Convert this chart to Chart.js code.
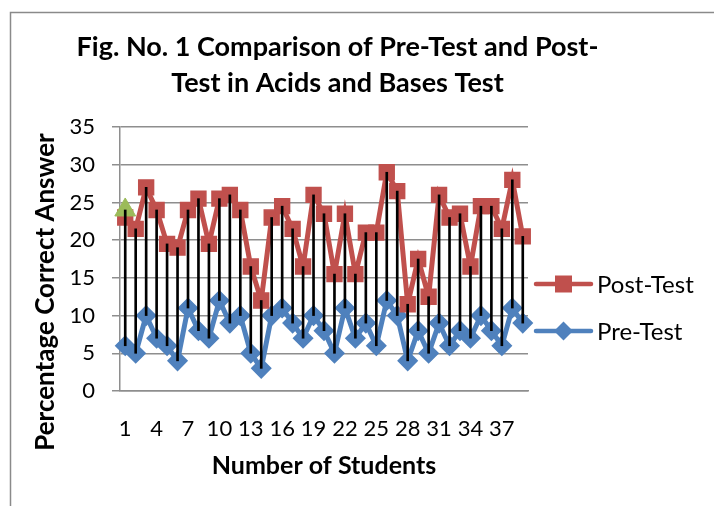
<!DOCTYPE html>
<html><head><meta charset="utf-8">
<script src="https://cdn.jsdelivr.net/npm/chart.js@4.4.1/dist/chart.umd.min.js"></script>
<style>html,body{margin:0;padding:0;background:#fff;overflow:hidden}#wrap{width:714px;height:506px;position:relative}</style>
</head><body><div id="wrap"><canvas id="c" width="714" height="506"></canvas></div>
<script>
const categories = ['1','2','3','4','5','6','7','8','9','10','11','12','13','14','15','16','17','18','19','20','21','22','23','24','25','26','27','28','29','30','31','32','33','34','35','36','37','38','39'];
const tickLabels = ['1','4','7','10','13','16','19','22','25','28','31','34','37'];
const postTest = [23,21.5,27,24,19.5,19,24,25.5,19.5,25.5,26,24,16.5,12,23,24.5,21.5,16.5,26,23.5,15.5,23.5,15.5,21,21,29,26.5,11.5,17.5,12.5,26,23,23.5,16.5,24.5,24.5,21.5,28,20.5];
const preTest = [6,5,10,7,6,4,11,8,7,12,9,10,5,3,10,11,9,7,10,8,5,11,7,9,6,12,10,4,8,5,9,6,8,7,10,8,6,11,9];
const series3 = [24,null,null,null,null,null,null,null,null,null,null,null,null,null,null,null,null,null,null,null,null,null,null,null,null,null,null,null,null,null,null,null,null,null,null,null,null,null,null];
const titleLines = ['Fig. No. 1 Comparison of Pre-Test and Post-','Test in Acids and Bases Test'];
const yTitle = 'Percentage Correct Answer';
const xTitle = 'Number of Students';
const yTicks = [0,5,10,15,20,25,30,35];

const RED = '#C0504D', BLUE = '#4F81BD', GREEN = '#9BBB59', GRID = '#8e8e8e';

const highLow = categories.map((c, i) => {
  const v = [postTest[i], preTest[i], series3[i]].filter(x => x !== null && x !== undefined);
  return [Math.min(...v), Math.max(...v)];
});

const deco = {
  id: 'deco',
  beforeDraw(chart) {
    const c = chart.ctx; c.save();
    c.fillStyle = '#fff'; c.fillRect(0, 0, chart.width, chart.height);
    c.strokeStyle = '#8a8a8a'; c.lineWidth = 1.5;
    c.strokeRect(10.5, 12.5, chart.width + 40, chart.height + 40);
    c.restore();
  },
  afterDraw(chart) {
    const c = chart.ctx; c.save();
    c.fillStyle = '#000'; c.textAlign = 'center'; c.textBaseline = 'middle';
    c.font = 'bold 27px Lato';
    titleLines.forEach((t, i) => c.fillText(t, 337.5, 47 + i * 36));
    c.save(); c.translate(46, 292); c.rotate(-Math.PI / 2);
    c.font = 'bold 26px Lato'; c.fillText(yTitle, 0, 0); c.restore();
    // legend
    const items = [
      {ds: chart.data.datasets[2], y: 284, shape: 'rect'},
      {ds: chart.data.datasets[3], y: 331, shape: 'diamond'}
    ];
    items.forEach(it => {
      c.strokeStyle = it.ds.borderColor; c.lineWidth = 4.5; c.lineCap = 'round';
      c.beginPath(); c.moveTo(536, it.y); c.lineTo(591, it.y); c.stroke();
      c.fillStyle = it.ds.backgroundColor;
      c.beginPath();
      const mx = 563.5;
      if (it.shape === 'rect') { c.rect(mx - 8.5, it.y - 8.5, 17, 17); }
      else { c.moveTo(mx, it.y - 9.5); c.lineTo(mx + 9.5, it.y); c.lineTo(mx, it.y + 9.5); c.lineTo(mx - 9.5, it.y); c.closePath(); }
      c.fill();
      c.fillStyle = '#000'; c.textAlign = 'left'; c.font = '24px Lato';
      c.fillText(it.ds.label, 597, it.y + 1);
    });
    c.restore();
  }
};

new Chart(document.getElementById('c'), {
  type: 'line',
  data: {
    labels: categories,
    datasets: [
      {type: 'bar', label: 'High-Low', data: highLow, backgroundColor: '#000', borderWidth: 0, barThickness: 2, order: 0},
      {label: 'Series3', data: series3, borderColor: GREEN, backgroundColor: GREEN, showLine: false, pointStyle: 'triangle', pointRadius: 12, pointBorderWidth: 1, order: 1},
      {label: 'Post-Test', data: postTest, borderColor: RED, backgroundColor: RED, borderWidth: 5, tension: 0, pointStyle: 'rect', pointRadius: 10.5, pointBorderWidth: 1.5, order: 2},
      {label: 'Pre-Test', data: preTest, borderColor: BLUE, backgroundColor: BLUE, borderWidth: 5, tension: 0, pointStyle: 'rectRot', pointRadius: 9.5, pointBorderWidth: 1.5, order: 3}
    ]
  },
  options: {
    responsive: false, animation: false, devicePixelRatio: 1,
    layout: {padding: {left: 0, right: 186, top: 127, bottom: 0}},
    plugins: {legend: {display: false}, title: {display: false}, tooltip: {enabled: false}},
    scales: {
      x: {
        offset: true,
        grid: {display: false},
        border: {display: true, color: GRID, width: 1.5},
        ticks: {autoSkip: false, maxRotation: 0, minRotation: 0, padding: 17, color: '#000', font: {family: 'Lato', size: 22},
          callback: function(v, i) { const l = categories[i]; return tickLabels.includes(l) ? l : ''; }},
        title: {display: true, text: xTitle, color: '#000', font: {family: 'Lato', size: 25, weight: 'bold'}, padding: {top: 0, bottom: 25}},
        afterFit: s => { s.height = 115; }
      },
      y: {
        min: 0, max: 35,
        afterBuildTicks: s => { s.ticks = yTicks.map(v => ({value: v})); },
        grid: {color: GRID, lineWidth: 1.5, drawTicks: true, tickLength: 8},
        border: {display: true, color: GRID, width: 1.5},
        ticks: {padding: 17, color: '#000', font: {family: 'Lato', size: 22}},
        afterFit: s => { s.width = 120; }
      }
    }
  },
  plugins: [deco]
});
</script></body></html>
